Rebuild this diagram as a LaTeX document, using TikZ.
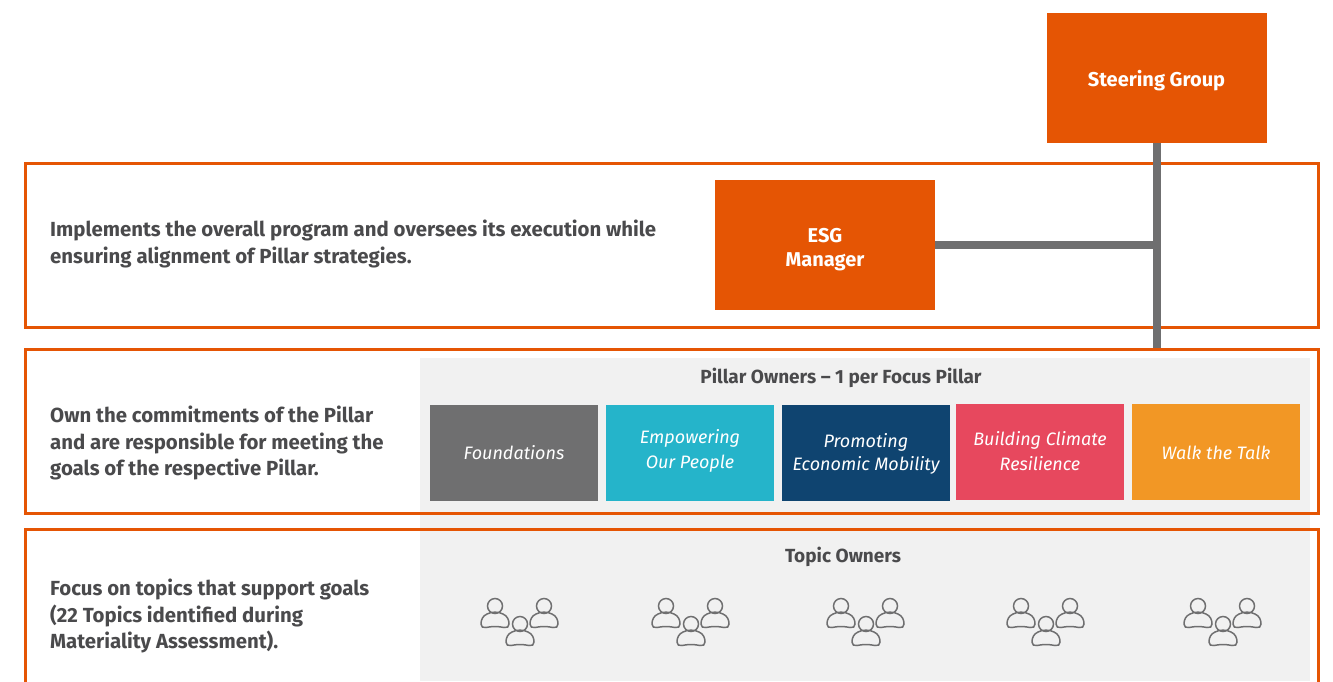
\documentclass[tikz,border=0pt]{standalone}
\usepackage{fontspec}
\setmainfont{Fira Sans}
\definecolor{orng}{HTML}{E55504}
\definecolor{grayln}{HTML}{6F6F70}
\definecolor{panel}{HTML}{F1F1F1}
\definecolor{teal}{HTML}{25B4CA}
\definecolor{navy}{HTML}{0F4470}
\definecolor{rosered}{HTML}{E7485E}
\definecolor{amber}{HTML}{F29725}
\definecolor{txt}{HTML}{4A4A4C}
\tikzset{
  x=1pt,y=-1pt,
  orangebox/.style={fill=orng,minimum width=220pt,minimum height=130pt,inner sep=0pt},
  orangetext/.style={inner sep=0pt,align=center,text=white,font=\fontsize{20}{24.5}\selectfont\bfseries},
  frame/.style={draw=orng,line width=3pt,minimum width=1293pt,inner sep=0pt},
  link/.style={draw=grayln,line width=8pt},
  pillar/.style={minimum width=168pt,minimum height=96pt,inner sep=0pt},
  pillartext/.style={inner sep=0pt,align=center,text=white,font=\fontsize{18}{24.5}\selectfont\itshape},
  lefttext/.style={anchor=west,align=left,inner sep=0pt,text=txt,font=\fontsize{20.4}{26.5}\selectfont\bfseries},
  panelhead/.style={text=txt,inner sep=0pt,font=\fontsize{19}{22}\selectfont\bfseries},
  person/.pic={\draw[draw=grayln,line width=1.5pt,fill=panel]
      (0,-18) circle[radius=7.5]
      (-8,-10) .. controls (-12.5,-8) and (-14,-4) .. (-14,0)
      .. controls (-14,3) and (-12,4) .. (-9,3.5)
      .. controls (-3,2.2) and (3,2.2) .. (9,3.5)
      .. controls (12,4) and (14,3) .. (14,0)
      .. controls (14,-4) and (12.5,-8) .. (8,-10)
      .. controls (3,-12.5) and (-3,-12.5) .. (-8,-10) -- cycle;},
  team/.pic={\path (0,0) pic{person} (49,0) pic{person} (25,18) pic{person};}
}
\begin{document}
\begin{tikzpicture}
\useasboundingbox (0,0) rectangle (1333,681);
\clip (0,0) rectangle (1333,681);
\fill[panel] (420,358) rectangle (1310,681);

\node[frame,minimum height=164pt] (f1) at (671.5,245) {};
\node[frame,minimum height=164pt] (f2) at (671.5,431) {};
\node[frame,minimum height=200pt] (f3) at (671.5,629) {};

\node[orangebox] (sg) at (1157,78) {};
\node[orangebox] (esg) at (825,245) {};
\draw[link] (sg.south) -- (sg.south |- f2.north);
\draw[link] (esg.east) -- (esg.east -| sg.south);
\node[orangetext] (sgt) at (1156.5,81) {Steering Group};
\node[orangetext] (esgt) at (825,249.5) {ESG\\Manager};

\node[lefttext] (t1) at (50,244) {Implements the overall program and oversees its execution while\\ensuring alignment of Pillar strategies.};
\node[lefttext] (t2) at (50,443) {Own the commitments of the Pillar\\and are responsible for meeting the\\goals of the respective Pillar.};
\node[lefttext] (t3) at (50,616) {Focus on topics that support goals\\(22 Topics  identified during\\Materiality Assessment).};

\node[panelhead] (h1) at (841,378) {Pillar Owners – 1 per Focus Pillar};
\node[panelhead] (h2) at (843,557) {Topic Owners};

\node[pillar,fill=grayln] (p1) at (514,453) {};
\node[pillar,fill=teal] (p2) at (690,453) {};
\node[pillar,fill=navy] (p3) at (866,453) {};
\node[pillar,fill=rosered] (p4) at (1040,452) {};
\node[pillar,fill=amber] (p5) at (1216,452) {};
\node[pillartext] (p1t) at (514,452.5) {Foundations};
\node[pillartext] (p2t) at (690,451) {Empowering\\Our People};
\node[pillartext] (p3t) at (866,454) {Promoting\\[-2pt]Economic Mobility};
\node[pillartext] (p4t) at (1040,451) {Building Climate\\Resilience};
\node[pillartext] (p5t) at (1216,452.5) {Walk the Talk};

\path (495,624) pic{team} (666,624) pic{team} (841,624) pic{team} (1021,624) pic{team} (1198,624) pic{team};
\end{tikzpicture}
\end{document}
